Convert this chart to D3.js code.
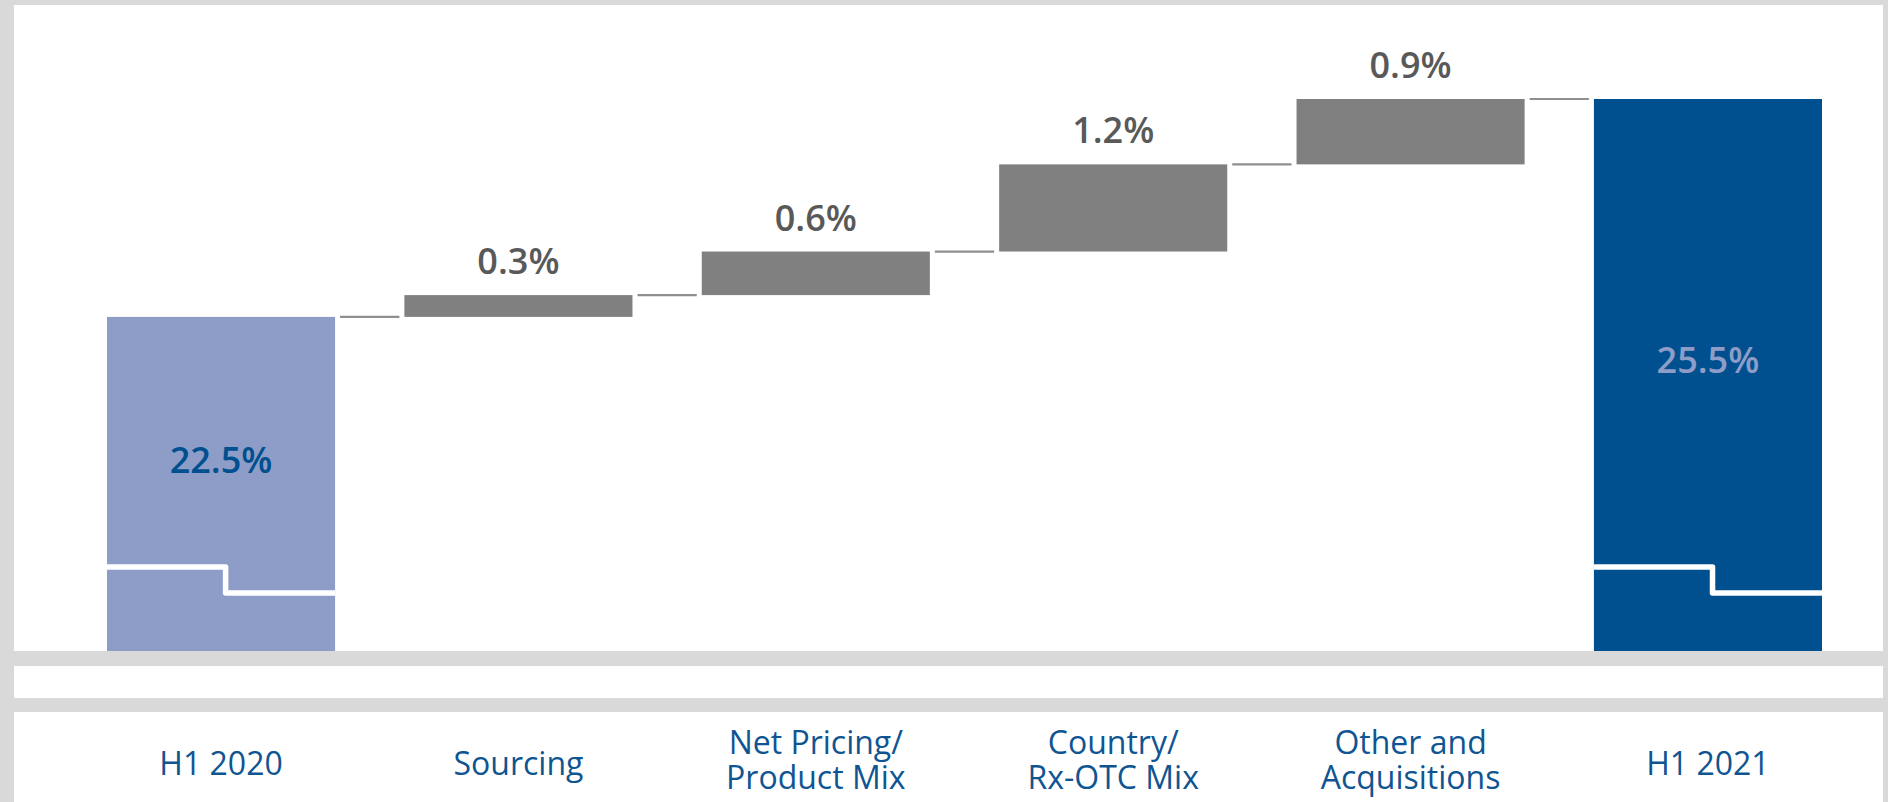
<!DOCTYPE html>
<html><head><meta charset="utf-8">
<script src="https://cdn.jsdelivr.net/npm/d3@7"></script>
<style>html,body{margin:0;padding:0;background:#d9d9d9;overflow:hidden;} svg{display:block;}</style>
</head><body><svg id="chart" width="1888" height="802"></svg>
<script>
// ---- data ----
const categories = ["H1 2020", "Sourcing", "Net Pricing/ Product Mix", "Country/ Rx-OTC Mix", "Other and Acquisitions", "H1 2021"];
const categoryLines = [["H1 2020"], ["Sourcing"], ["Net Pricing/", "Product Mix"], ["Country/", "Rx-OTC Mix"], ["Other and", "Acquisitions"], ["H1 2021"]];
const startValue = 22.5;
const deltaValues = [0.3, 0.6, 1.2, 0.9];
const endValue = 25.5;
const valueLabels = ["22.5%", "0.3%", "0.6%", "1.2%", "0.9%", "25.5%"];
const yCutValue = 17.9; // value at which the (broken) axis is cut

// ---- build waterfall rows ----
const rows = [];
rows.push({cat: categories[0], kind: "start", from: yCutValue, to: startValue, level: startValue, label: valueLabels[0]});
let cum = startValue;
deltaValues.forEach((d, i) => {
  rows.push({cat: categories[i + 1], kind: "delta", from: cum, to: cum + d, level: cum + d, label: valueLabels[i + 1]});
  cum += d;
});
rows.push({cat: categories[5], kind: "end", from: yCutValue, to: endValue, level: endValue, label: valueLabels[5]});

// ---- layout ----
const W = 1888, H = 802;
const svg = d3.select("#chart");
const FONT = "'Open Sans', 'Noto Sans', sans-serif";

svg.append("rect").attr("width", W).attr("height", H).attr("fill", "#d9d9d9");
const panels = [[14, 5, 1869, 646], [14, 666, 1869, 32], [14, 712, 1869, 90]];
svg.selectAll("rect.panel").data(panels).enter().append("rect")
  .attr("class", "panel")
  .attr("x", d => d[0]).attr("y", d => d[1]).attr("width", d => d[2]).attr("height", d => d[3])
  .attr("fill", "#ffffff");

const plotBottom = 651;
const x = d3.scaleBand().domain(categories).range([107, 1822]).paddingInner(0.233).paddingOuter(0);
const y = d3.scaleLinear().domain([yCutValue, endValue]).range([plotBottom, 99]);
const bw = x.bandwidth();

const barLeft = r => x(r.cat);
const barWidth = r => bw;
const color = {start: "#8e9dc8", delta: "#808080", end: "#00508f"};

const g = svg.append("g");

// connectors
const conn = rows.slice(0, -1).map((r, i) => ({
  x1: barLeft(r) + barWidth(r) + 5,
  x2: barLeft(rows[i + 1]) - 5,
  v: r.level
}));
g.selectAll("line.conn").data(conn).enter().append("line")
  .attr("x1", d => d.x1).attr("x2", d => d.x2)
  .attr("y1", d => y(d.v)).attr("y2", d => y(d.v))
  .attr("stroke", "#8f8f8f").attr("stroke-width", 2.2);

// bars
g.selectAll("rect.bar").data(rows).enter().append("rect")
  .attr("class", "bar")
  .attr("x", barLeft)
  .attr("width", barWidth)
  .attr("y", d => y(Math.max(d.from, d.to)))
  .attr("height", d => Math.abs(y(d.from) - y(d.to)))
  .attr("fill", d => color[d.kind]);

// axis-break symbols in total bars
const totals = rows.filter(r => r.kind !== "delta");
g.selectAll("path.brk").data(totals).enter().append("path")
  .attr("d", d => {
    const l = barLeft(d), w = barWidth(d);
    const y1 = plotBottom - 84, y2 = plotBottom - 58;
    return `M${l},${y1}H${l + w * 0.52}V${y2}H${l + w}`;
  })
  .attr("fill", "none").attr("stroke", "#ffffff").attr("stroke-width", 5.5)
  .attr("stroke-linejoin", "round");

// value labels on deltas
g.selectAll("text.dl").data(rows.filter(r => r.kind === "delta")).enter().append("text")
  .attr("x", d => barLeft(d) + barWidth(d) / 2)
  .attr("y", d => y(d.to) - 21)
  .attr("text-anchor", "middle")
  .attr("font-family", FONT).attr("font-size", 36).attr("font-weight", 600)
  .attr("fill", "#595959")
  .text(d => d.label);

// value labels in totals
g.selectAll("text.tl").data(totals).enter().append("text")
  .attr("x", d => barLeft(d) + barWidth(d) / 2)
  .attr("y", d => y(d.to) + (plotBottom - y(d.to)) * 0.541 - 25)
  .attr("text-anchor", "middle")
  .attr("font-family", FONT).attr("font-size", 36).attr("font-weight", 600)
  .attr("fill", d => d.kind === "start" ? "#00508f" : "#8e9dc8")
  .text(d => d.label);

// category axis
const axisG = svg.append("g").call(d3.axisBottom(x).tickSize(0).tickFormat(""));
axisG.select(".domain").remove();
axisG.selectAll(".tick").each(function(d) {
  const lines = categoryLines[categories.indexOf(d)];
  const t = d3.select(this).select("text");
  t.attr("y", null).attr("dy", null)
    .attr("font-family", FONT).attr("font-size", 32).attr("font-weight", 400)
    .attr("fill", "#0f5592").attr("text-anchor", "middle");
  const ys = lines.length === 1 ? [775] : [754, 789];
  t.selectAll("tspan").data(lines).enter().append("tspan")
    .attr("x", 0).attr("y", (l, j) => ys[j]).text(l => l);
});
</script>
</body></html>
